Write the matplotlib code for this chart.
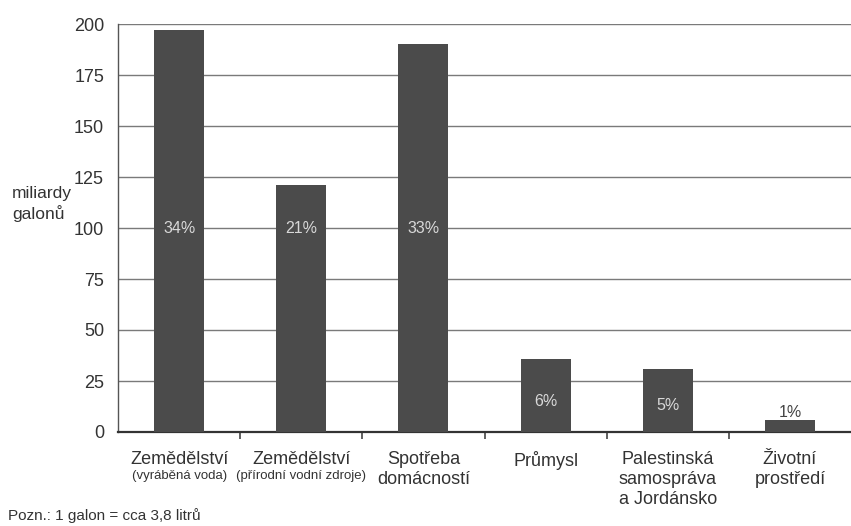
import matplotlib.pyplot as plt
import numpy as np

plt.rcParams['font.family'] = ['Liberation Sans', 'DejaVu Sans']

# data
categories = ["Zemědělství", "Zemědělství", "Spotřeba\ndomácností", "Průmysl",
              "Palestinská\nsamospráva\na Jordánsko", "Životní\nprostředí"]
notes = ["(vyráběná voda)", "(přírodní vodní zdroje)", "", "", "", ""]
values = [197, 121, 190, 36, 31, 6]
shares = ["34%", "21%", "33%", "6%", "5%", "1%"]
yticks = [0, 25, 50, 75, 100, 125, 150, 175, 200]

bar_color = "#4b4b4b"
grid_color = "#7a7a7a"
text_color = "#333333"

fig = plt.figure(figsize=(8.51, 5.26), dpi=100)
ax = fig.add_axes([118 / 851, 1 - 432 / 526, 1 - 118 / 851, 408 / 526])

x = np.arange(len(categories))
ax.bar(x, values, width=0.41, color=bar_color, zorder=3)

ax.set_xlim(-0.5, len(categories) - 0.5)
ax.set_ylim(0, 200)
ax.set_yticks(yticks)
ax.yaxis.grid(True, color=grid_color, lw=1.0, zorder=0)
ax.tick_params(axis='y', length=0, pad=10, labelsize=13, labelcolor=text_color)

# category separators on the bottom line
ax.set_xticks(x[:-1] + 0.5)
ax.set_xticklabels([])
ax.tick_params(axis='x', direction='out', length=5, width=1.2, color="#444444")

for side in ["top", "right"]:
    ax.spines[side].set_visible(False)
ax.spines["left"].set_color("#555555")
ax.spines["left"].set_linewidth(1.0)
ax.spines["bottom"].set_color("#333333")
ax.spines["bottom"].set_linewidth(1.6)

# category labels below the axis
for xi, name, note in zip(x, categories, notes):
    ax.annotate(name, xy=(xi, 0), xycoords=('data', 'axes fraction'),
                xytext=(0, -14), textcoords='offset points',
                ha='center', va='top', fontsize=13, color=text_color,
                linespacing=1.2)
    if note:
        ax.annotate(note, xy=(xi, 0), xycoords=('data', 'axes fraction'),
                    xytext=(0, -27), textcoords='offset points',
                    ha='center', va='top', fontsize=9.5, color=text_color)

# share labels
for xi, v, s in zip(x, values, shares):
    if v > 60:
        ax.text(xi, 100, s, ha='center', va='center', fontsize=11.5,
                color="#d8d8d8", zorder=4)
    elif v > 15:
        ax.text(xi, v * 0.42, s, ha='center', va='center', fontsize=11.5,
                color="#d8d8d8", zorder=4)
    else:
        ax.text(xi, v, s, ha='center', va='bottom', fontsize=11.5,
                color="#444444", zorder=4)

fig.text(12 / 851, 1 - 204 / 526, "miliardy\ngalonů", ha='left', va='center',
         fontsize=12.5, color=text_color, linespacing=1.35)
fig.text(8 / 851, 1 - 516 / 526, "Pozn.: 1 galon = cca 3,8 litrů", ha='left', va='center',
         fontsize=11, color=text_color)

fig.savefig("out.png", dpi=100)
